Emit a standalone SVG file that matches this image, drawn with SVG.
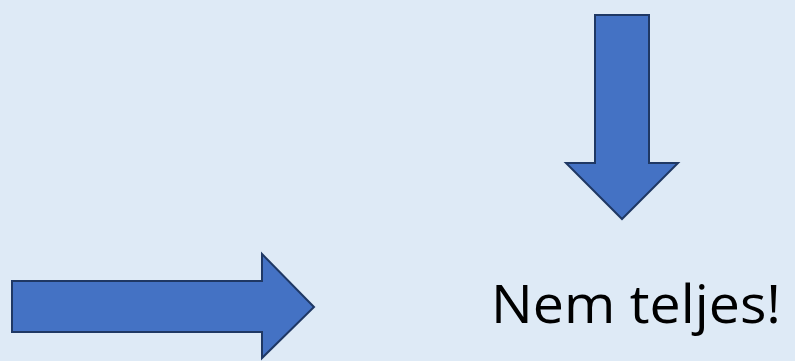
<svg xmlns="http://www.w3.org/2000/svg" width="795" height="361" viewBox="0 0 795 361">
<style>
.arrow{fill:#4472C4;stroke:#1F3864;stroke-width:2;stroke-linejoin:miter}
.lbl{font-family:"Open Sans","Noto Sans","Liberation Sans",sans-serif;font-size:53px;fill:#000}
</style>
<rect width="795" height="361" fill="#DEEAF6"/>
<g id="arrow-down">
<polygon class="arrow" points="595,15 649,15 649,163 678,163 622,219 566,163 595,163"/>
</g>
<g id="arrow-right">
<polygon class="arrow" points="12,281 262,281 262,254 314,307 262,358 262,332 12,332"/>
</g>
<g id="label">
<text class="lbl" x="491" y="323" textLength="290" lengthAdjust="spacingAndGlyphs">Nem teljes!</text>
</g>
</svg>
